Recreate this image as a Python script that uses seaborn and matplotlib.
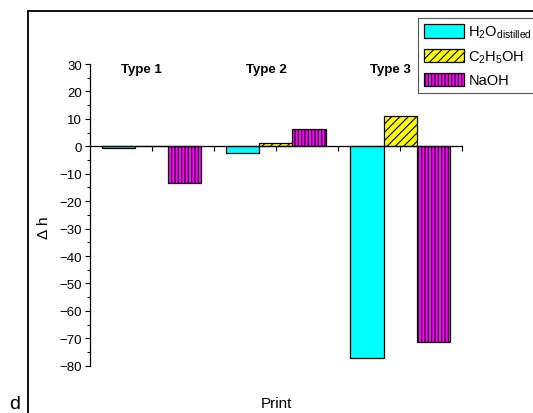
import matplotlib
matplotlib.use("Agg")
import matplotlib.pyplot as plt
import seaborn as sns
import pandas as pd
from matplotlib.lines import Line2D
from matplotlib.ticker import MultipleLocator

# data
types = ['Type 1', 'Type 2', 'Type 3']
type_pos = [1, 3, 5]
solvents = [r'H$_2$O$_{\mathrm{distilled}}$', r'C$_2$H$_5$OH', 'NaOH']
h2o = [-0.6, -2.4, -77.0]
etoh = [0.0, 1.2, 11.2]
naoh = [-13.3, 6.4, -71.2]
colors = ['#00FFFF', '#FFFF00', '#FF00FF']
hatches = ['', '////', '|||||']

sns.set_theme(style='ticks')
plt.rcParams['font.family'] = ['Liberation Sans', 'DejaVu Sans']
plt.rcParams['mathtext.fontset'] = 'custom'
plt.rcParams['mathtext.rm'] = 'Liberation Sans'
plt.rcParams['mathtext.it'] = 'Liberation Sans:italic'
plt.rcParams['hatch.linewidth'] = 0.8
plt.rcParams['text.color'] = 'black'
plt.rcParams['axes.labelcolor'] = 'black'

rows = []
for name, vals in zip(solvents, [h2o, etoh, naoh]):
    for p, v in zip(type_pos, vals):
        rows.append({'pos': p, 'solvent': name, 'dh': v})
df = pd.DataFrame(rows)

W, H = 533, 414
fig = plt.figure(figsize=(W / 100, H / 100), dpi=100)
ax = fig.add_axes([89.5 / W, 1 - 366.8 / H, (462.3 - 89.5) / W, (366.8 - 65) / H])

sns.barplot(data=df, x='pos', y='dh', hue='solvent', hue_order=solvents,
            palette=colors, native_scale=True, width=0.8, errorbar=None,
            edgecolor='black', linewidth=0.9, saturation=1, legend=False, ax=ax)

for cont, hatch in zip(ax.containers, hatches):
    for bar in cont:
        bar.set_hatch(hatch)
        bar.set_edgecolor('black')

ax.set_xlim(0, 6)
ax.set_ylim(-80, 30)
ax.spines['top'].set_visible(False)
ax.spines['right'].set_visible(False)
ax.spines['bottom'].set_position(('data', 0))
for s in ['left', 'bottom']:
    ax.spines[s].set_linewidth(0.9)
    ax.spines[s].set_color('black')

ax.set_xticks([1, 2, 3, 4, 5, 6])
ax.set_xticklabels([])
ax.yaxis.set_major_locator(MultipleLocator(10))
ax.yaxis.set_minor_locator(MultipleLocator(5))
ax.tick_params(axis='x', direction='out', length=3.5, width=0.8, color='black')
ax.tick_params(axis='y', which='major', direction='out', length=3.5, width=0.8,
               color='black', labelsize=9.5, pad=2, labelcolor='black')
ax.tick_params(axis='y', which='minor', direction='out', length=2, width=0.8, color='black')
ax.set_xlabel('')
ax.set_ylabel('')

for t, p in zip(types, type_pos):
    ax.text(p - 0.16, 28.3, t, ha='center', va='center', fontsize=9.5,
            fontweight='bold', color='black')

fig.text(276 / W, 1 - 404 / H, 'Print', ha='center', va='center', fontsize=11)
fig.text(43 / W, 1 - 228 / H, r'$\Delta$ h', ha='center', va='center',
         rotation=90, fontsize=11)
fig.text(9 / W, 1 / H, 'd', ha='left', va='bottom', fontsize=14)

fig.add_artist(Line2D([28 / W, 28 / W], [0, 1 - 12 / H], transform=fig.transFigure,
                      color='black', lw=1.3))
fig.add_artist(Line2D([28 / W, 1], [1 - 12 / H, 1 - 12 / H], transform=fig.transFigure,
                      color='black', lw=1.3))

leg = fig.legend(ax.containers, solvents, loc='upper left',
                 bbox_to_anchor=(418 / W, 1 - 19 / H), borderaxespad=0,
                 fontsize=10.5, frameon=True, fancybox=False, framealpha=1,
                 edgecolor='#555555', handlelength=2.75, handleheight=1.05,
                 handletextpad=0.3, borderpad=0.4, labelspacing=0.55)
leg.get_frame().set_linewidth(0.8)

fig.savefig('out.png', dpi=100)
